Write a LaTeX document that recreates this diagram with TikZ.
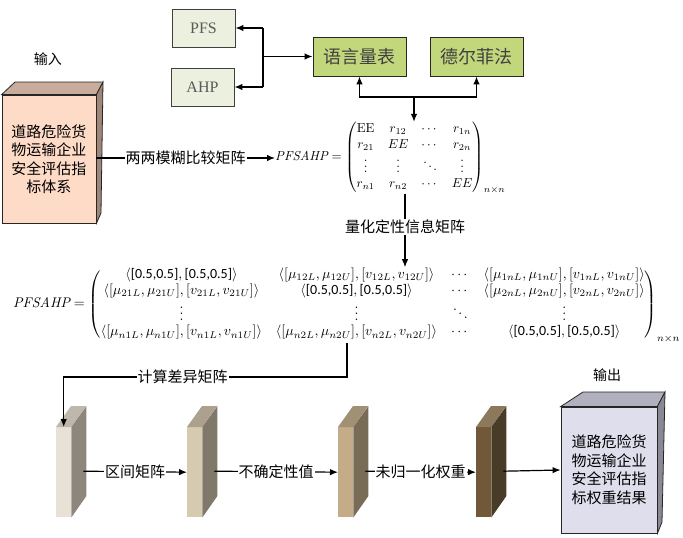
\documentclass[tikz,border=0pt]{standalone}
\usepackage{amsmath}
\usepackage{graphicx}
\usepackage{fontspec}
\newfontfamily\cjk{Noto Sans CJK SC}
\newfontfamily\tnr{Liberation Serif}
\newfontfamily\calfont{Carlito}
\usetikzlibrary{arrows.meta}
\definecolor{inFront}{RGB}{253,219,199}
\definecolor{inTop}{RGB}{200,172,156}
\definecolor{inSide}{RGB}{160,134,120}
\definecolor{outFront}{RGB}{222,222,236}
\definecolor{outTop}{RGB}{176,176,190}
\definecolor{outSide}{RGB}{136,136,150}
\definecolor{pfsFill}{RGB}{235,241,222}
\definecolor{greenFill}{RGB}{194,214,124}
\definecolor{sAf}{RGB}{232,226,214}\definecolor{sAt}{RGB}{190,184,172}\definecolor{sAs}{RGB}{140,134,124}
\definecolor{sBf}{RGB}{214,202,176}\definecolor{sBt}{RGB}{172,160,142}\definecolor{sBs}{RGB}{128,120,104}
\definecolor{sCf}{RGB}{196,172,136}\definecolor{sCt}{RGB}{160,144,116}\definecolor{sCs}{RGB}{120,108,86}
\definecolor{sDf}{RGB}{112,88,56}\definecolor{sDt}{RGB}{140,120,90}\definecolor{sDs}{RGB}{72,60,40}
\newcommand\zh{\cjk\fontsize{15}{18.5}\selectfont}
\newcommand\hv[1]{\text{\calfont #1}}
\newcommand\slab[5]{%
  \node[fill=#3, minimum width=15pt, minimum height=90pt, inner sep=0pt, anchor=north west] (#1) at (#2,427) {};
  \fill[#4] (#1.north west) -- ++(15,-21) -- ++(15,0) -- (#1.north east) -- cycle;
  \fill[#5] (#1.north east) -- ++(15,-21) -- ++(0,90) -- (#1.south east) -- cycle;
  \path (#1.east) ++(12,-1) coordinate (#1e);
}
\begin{document}
\begin{tikzpicture}[x=1pt,y=-1pt,
  arr/.style={-{Latex[length=8pt,width=6.5pt]}, line width=1.2pt},
  plain/.style={line width=1.2pt},
  lbl/.style={font=\zh, fill=white, inner sep=1pt},
  pbox/.style={draw=black!75, line width=0.9pt, fill=pfsFill, minimum width=63pt, minimum height=38pt, font=\tnr\fontsize{16}{18}\selectfont, text=black!65, inner sep=0pt},
  gbox/.style={draw=black!85, line width=0.9pt, fill=greenFill, minimum width=93pt, minimum height=39pt, font=\cjk\fontsize{18}{20}\selectfont, text=black!75, inner sep=0pt}]
\useasboundingbox (0,0) rectangle (683,538);

% top method boxes
\node[pbox] (pfs) at (203.5,28) {PFS};
\node[pbox] (ahp) at (202.5,87) {AHP};
\node[gbox] (yy) at (359.5,56.5) {语言量表};
\node[gbox] (df) at (476.5,56.5) {德尔菲法};
\coordinate (v1) at (263,28);
\coordinate (v2) at (263,87);
\coordinate (vm) at (v1 |- yy.west);
\draw[plain] (v1) -- (v2);
\draw[arr] (v1) -- (pfs.east);
\draw[arr] (v2) -- (ahp.east);
\draw[arr] (vm) -- (yy.west);
\coordinate (j) at (414,97);
\draw[arr] (j) -| (yy.south);
\draw[arr] (j) -| (df.south);

% input box
\node[font=\cjk\fontsize{14}{16}\selectfont] (inlbl) at (48,59) {输入};
\node[draw=black!85, line width=0.8pt, fill=inFront, minimum width=94pt, minimum height=128pt, inner sep=0pt, align=center, font=\zh] (in) at (49,159) {道路危险货\\物运输企业\\安全评估指\\标体系};
\filldraw[fill=inTop, draw=black!85, line width=0.8pt] (in.north west) -- (15,82) -- (103,82) -- (in.north east) -- cycle;
\filldraw[fill=inSide, draw=black!85, line width=0.8pt] (in.north east) -- (103,82) -- (101,213) -- (in.south east) -- cycle;

% matrix 1
\node[anchor=west, inner sep=0pt, font=\fontsize{10}{11.8}\selectfont] (m1) at (275,158)
 {\scalebox{1.3}{$\mathit{PFSAHP}=\begin{pmatrix}\mathrm{EE} & r_{12} & \cdots & r_{1n}\\ r_{21} & EE & \cdots & r_{2n}\\ \vdots & \vdots & \ddots & \vdots\\ r_{n1} & r_{n2} & \cdots & EE\end{pmatrix}_{n\times n}$}};
\draw[arr] (in.east |- m1.west) -- node[lbl]{两两模糊比较矩阵} (m1.west);
\draw[arr] (j) -- (j |- m1.north);

% middle label
\node[lbl] (q) at (405,227) {量化定性信息矩阵};
\draw[plain] (q.north |- m1.south) -- (q.north);

% matrix 2
\node[anchor=west, inner sep=0pt, font=\fontsize{10}{11.3}\selectfont] (m2) at (13,305)
 {\scalebox{1.4}{$\setlength\arraycolsep{5pt}\mathit{PFSAHP}=\begin{pmatrix}
 \langle\hv{[0.5,0.5]},\hv{[0.5,0.5]}\rangle & \langle[\mu_{12L},\mu_{12U}],[v_{12L},v_{12U}]\rangle & \cdots & \langle[\mu_{1nL},\mu_{1nU}],[v_{1nL},v_{1nU}]\rangle\\
 \langle[\mu_{21L},\mu_{21U}],[v_{21L},v_{21U}]\rangle & \langle\hv{[0.5,0.5]},\hv{[0.5,0.5]}\rangle & \cdots & \langle[\mu_{2nL},\mu_{2nU}],[v_{2nL},v_{2nU}]\rangle\\
 \vdots & \vdots & \ddots & \vdots\\
 \langle[\mu_{n1L},\mu_{n1U}],[v_{n1L},v_{n1U}]\rangle & \langle[\mu_{n2L},\mu_{n2U}],[v_{n2L},v_{n2U}]\rangle & \cdots & \langle\hv{[0.5,0.5]},\hv{[0.5,0.5]}\rangle
 \end{pmatrix}_{n\times n}$}};
\draw[arr] (q.south) -- (q.south |- m2.north);

% slabs
\slab{s1}{56}{sAf}{sAt}{sAs}
\slab{s2}{187}{sBf}{sBt}{sBs}
\slab{s3}{338}{sCf}{sCt}{sCs}
\slab{s4}{476}{sDf}{sDt}{sDs}

\coordinate (c1) at (347,377);
\coordinate (m2b) at (c1 |- m2.south);
\coordinate (c2) at (s1.north |- c1);
\draw[arr] (m2b) -- (c1) -- node[lbl, pos=0.58]{计算差异矩阵} (c2) -- (s1.north);

% output box
\node[font=\cjk\fontsize{14}{16}\selectfont] (outlbl) at (607,375) {输出};
\node[draw=black!85, line width=0.8pt, fill=outFront, minimum width=96pt, minimum height=126pt, inner sep=0pt, align=center, font=\zh] (out) at (609,470) {道路危险货\\物运输企业\\安全评估指\\标权重结果};
\filldraw[fill=outTop, draw=black!85, line width=0.8pt] (out.north west) -- (583,392) -- (665,392) -- (out.north east) -- cycle;
\filldraw[fill=outSide, draw=black!85, line width=0.8pt] (out.north east) -- (665,392) -- (662,522) -- (out.south east) -- cycle;

\draw[arr] (s1e) -- node[lbl]{区间矩阵} (s2.west);
\draw[arr] (s2e) -- node[lbl]{不确定性值} (s3.west);
\draw[arr] (s3e) -- node[lbl]{未归一化权重} (s4.west);
\draw[arr] (s4e) -- (out.west);
\end{tikzpicture}
\end{document}
